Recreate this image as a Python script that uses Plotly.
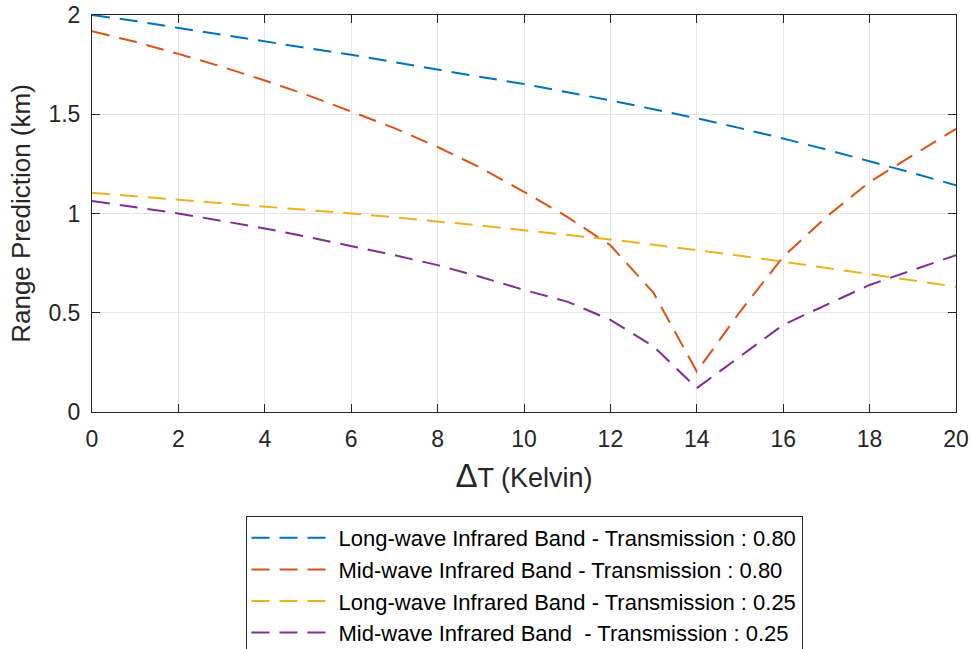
import plotly.graph_objects as go

dT = list(range(0, 21))
lwir_080 = [2.0, 1.97, 1.935, 1.90, 1.866, 1.833, 1.80, 1.762, 1.723, 1.688, 1.652,
            1.612, 1.57, 1.525, 1.48, 1.43, 1.378, 1.322, 1.264, 1.204, 1.142]
mwir_080 = [1.918, 1.865, 1.804, 1.74, 1.67, 1.595, 1.514, 1.43, 1.335, 1.23, 1.109,
            0.983, 0.84, 0.60, 0.204, 0.505, 0.782, 0.983, 1.159, 1.293, 1.427]
lwir_025 = [1.104, 1.087, 1.07, 1.052, 1.033, 1.017, 1.0, 0.981, 0.961, 0.939, 0.916,
            0.893, 0.869, 0.843, 0.816, 0.787, 0.757, 0.726, 0.695, 0.663, 0.631]
mwir_025 = [1.063, 1.033, 1.0, 0.963, 0.925, 0.882, 0.836, 0.79, 0.74, 0.68, 0.615,
            0.556, 0.464, 0.33, 0.12, 0.28, 0.439, 0.54, 0.64, 0.715, 0.79]

names = ["Long-wave Infrared Band - Transmission : 0.80",
         "Mid-wave Infrared Band - Transmission : 0.80",
         "Long-wave Infrared Band - Transmission : 0.25",
         "Mid-wave Infrared Band \u00a0- Transmission : 0.25"]
colors = ["#0072BD", "#D95319", "#EDB120", "#7E2F8E"]
series = [lwir_080, mwir_080, lwir_025, mwir_025]

fig = go.Figure()
for name, col, ys in zip(names, colors, series):
    fig.add_trace(go.Scatter(x=dT, y=ys, mode="lines", name=name,
                             line=dict(color=col, width=2, dash="18px,10px")))

axis_common = dict(showline=True, linecolor="#262626", linewidth=1, mirror="ticks",
                   ticks="inside", ticklen=8, tickcolor="#262626", showgrid=True,
                   gridcolor="#E6E6E6", gridwidth=1, zeroline=False, automargin=False,
                   ticklabeloverflow="allow", ticklabelstandoff=6,
                   tickfont=dict(size=23, color="#262626"))

W, H = 971, 649
fig.update_layout(
    width=W, height=H,
    margin=dict(l=92, r=15, t=15, b=237),
    paper_bgcolor="white", plot_bgcolor="white",
    font=dict(family="Liberation Sans, Arial, sans-serif", color="#262626"),
    xaxis=dict(range=[0, 20], dtick=2,
               title=dict(text="<span style='font-size:33px'>Δ</span>T (Kelvin)",
                          font=dict(size=27), standoff=17),
               **axis_common),
    yaxis=dict(range=[0, 2], dtick=0.5,
               title=dict(text="Range Prediction (km)", font=dict(size=26), standoff=10),
               **axis_common),
    legend=dict(x=0.5, xanchor="center", yref="container", y=(H - 516) / H,
                yanchor="top",
                bordercolor="#262626", borderwidth=1, bgcolor="white",
                font=dict(size=22, color="black"), tracegroupgap=0,
                itemwidth=82),
    showlegend=True,
)

fig.write_html("out.html", config={"displayModeBar": False},
               post_script="document.body.style.margin='0';document.body.style.overflow='hidden';")
